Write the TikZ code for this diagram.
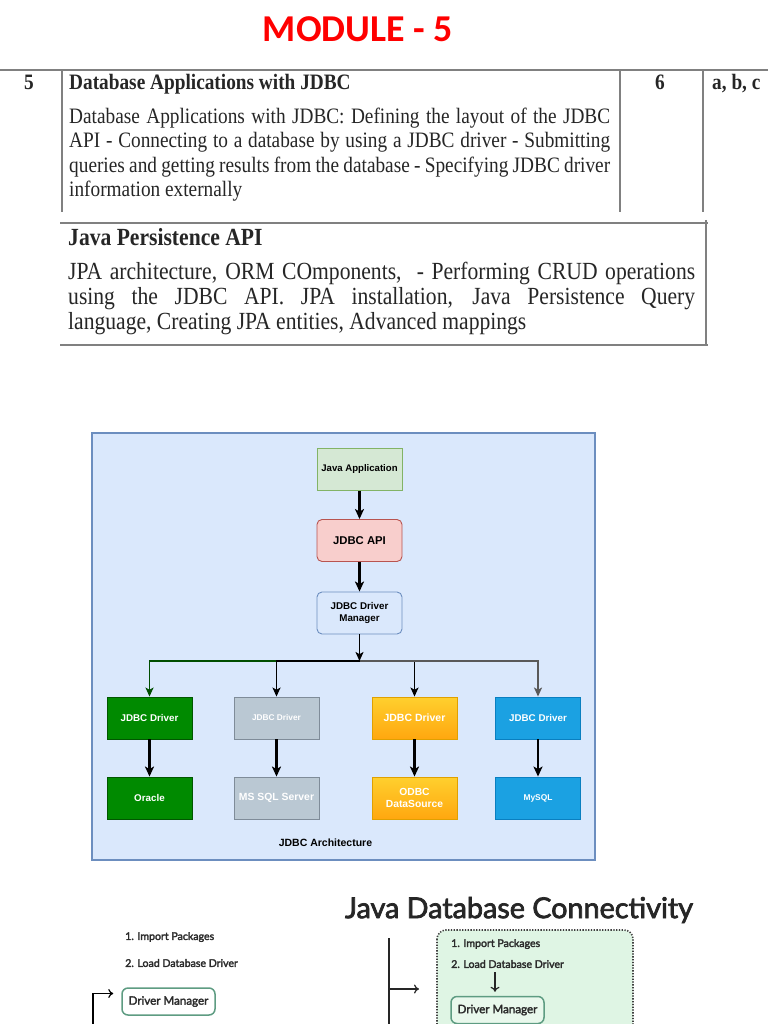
\documentclass[tikz,border=0pt]{standalone}
\usepackage{fontspec}
\setmainfont{Liberation Serif}
\newfontfamily\arialf{Liberation Sans}
\newfontfamily\calib{Carlito}
\newfontfamily\latof{Lato}
\newfontfamily\latom{Lato}[FakeBold=2.5]
\usetikzlibrary{arrows.meta,calc}
\definecolor{tablegray}{HTML}{808080}
\definecolor{modred}{HTML}{FF0000}
\definecolor{diagbg}{HTML}{DAE8FC}
\definecolor{diagborder}{HTML}{6C8EBF}
\definecolor{jafill}{HTML}{D5E8D4}
\definecolor{jaborder}{HTML}{82B366}
\definecolor{apifill}{HTML}{F8CECC}
\definecolor{apiborder}{HTML}{B85450}
\definecolor{gfill}{HTML}{008A00}
\definecolor{gborder}{HTML}{005700}
\definecolor{grfill}{HTML}{BAC8D3}
\definecolor{grborder}{HTML}{7F8C99}
\definecolor{otop}{HTML}{FFD02E}
\definecolor{obot}{HTML}{FFA70F}
\definecolor{oborder}{HTML}{E0A000}
\definecolor{bfill}{HTML}{1BA1E2}
\definecolor{bborder}{HTML}{0A7FC0}
\definecolor{jdcgreen}{HTML}{DFF5E4}
\definecolor{dmborder}{HTML}{5E9C82}
\definecolor{jdctext}{HTML}{2B2B2B}
\newcommand\jline[2]{\makebox[#1][s]{#2}}
\newcommand\tall[1]{\scalebox{1}[1.14]{#1}}
\begin{document}
\begin{tikzpicture}[x=1pt,y=-1pt,
  tline/.style={draw=tablegray, line width=1.1pt},
  tbody/.style={anchor=base west, inner sep=0pt, font=\fontsize{19.3}{23}\selectfont, text=black!85},
  tbodyb/.style={anchor=base west, inner sep=0pt, font=\fontsize{21.6}{25}\selectfont, text=black!85},
  dnode/.style={draw, line width=0.9pt, minimum width=85pt, minimum height=42pt, inner sep=1pt, align=center, font=\arialf\bfseries\fontsize{10}{12}\selectfont},
  arr/.style={line width=2.4pt, -{Stealth[length=10pt,width=9pt,inset=2.5pt]}},
  barr/.style={line width=1.6pt, -{Stealth[length=9pt,width=8pt,inset=2.2pt]}},
  jtext/.style={anchor=west, inner sep=0pt, text=jdctext, font=\latom\fontsize{10.6}{12}\selectfont},
  dmbox/.style={draw=dmborder, line width=1.5pt, rounded corners=6pt, minimum width=93pt, minimum height=27pt, inner sep=1pt, text=jdctext, font=\latom\fontsize{11.6}{13}\selectfont},
  thinarr/.style={line width=1.2pt, -{To[length=5pt,width=9pt]}}
]
\useasboundingbox (0,0) rectangle (768,1024);
\clip (0,0) rectangle (768,1024);
\fill[white] (0,0) rectangle (768,1024);

% Title
\node[inner sep=0pt, text=modred] (title) at (358,29) {\resizebox{190pt}{!}{\calib\bfseries MODULE - 5}};

% Table
\draw[tline] (0,70) -- (768,70);
\draw[tline] (62,70) -- (62,212);
\draw[tline] (620,70) -- (620,212);
\draw[tline] (703,70) -- (703,212);
\draw[tline] (60,223) -- (708,223);
\draw[tline] (706,220) -- (706,345);
\draw[tline] (60,345) -- (708,345);

\node[tbody, anchor=base] (num) at (29,90) {\tall{\bfseries 5}};
\node[tbody] (h1) at (69,90) {\tall{\bfseries Database Applications with JDBC}};
\node[tbody, anchor=base] (hrs) at (660,90) {\tall{\bfseries 6}};
\node[tbody] (co) at (712,90) {\tall{\bfseries a, b, c}};
\node[tbody] (l1) at (69,124) {\tall{\jline{541pt}{Database Applications with JDBC: Defining the layout of the JDBC}}};
\node[tbody] (l2) at (69,148) {\tall{\jline{541pt}{API - Connecting to a database by using a JDBC driver - Submitting}}};
\node[tbody] (l3) at (69,173) {\tall{\jline{541pt}{queries and getting results from the database - Specifying JDBC driver}}};
\node[tbody] (l4) at (69,197) {\tall{information externally}};

\node[tbodyb] (h2) at (68,245) {\tall{\bfseries Java Persistence API}};
\node[tbodyb] (m1) at (68,279) {\tall{\jline{627pt}{JPA architecture, ORM COmponents,\ \ - Performing CRUD operations}}};
\node[tbodyb] (m2) at (68,304) {\tall{\jline{627pt}{using the JDBC API. JPA installation, Java Persistence Query}}};
\node[tbodyb] (m3) at (68,329) {\tall{language, Creating JPA entities, Advanced mappings}};

% JDBC architecture diagram
\draw[fill=diagbg, draw=diagborder, line width=2pt] (92,433) rectangle (595,860);

\node[dnode, fill=jafill, draw=jaborder, font=\arialf\bfseries\fontsize{9.6}{11}\selectfont] (ja) at (359.5,469.5) {Java Application};
\node[dnode, fill=apifill, draw=apiborder, rounded corners=5pt, font=\arialf\bfseries\fontsize{11.3}{13}\selectfont] (api) at (359.5,540.5) {JDBC API};
\node[dnode, fill=diagbg, draw=diagborder, rounded corners=5pt, font=\arialf\bfseries\fontsize{9.8}{12}\selectfont] (dm) at (359.5,613) {JDBC Driver\\Manager};

\node[dnode, fill=gfill, draw=gborder, text=white, font=\arialf\bfseries\fontsize{9.8}{12}\selectfont] (d1) at (149.5,718) {JDBC Driver};
\node[dnode, fill=grfill, draw=grborder, text=white, font=\arialf\bfseries\fontsize{8.3}{10}\selectfont] (d2) at (276.5,718) {JDBC Driver};
\node[dnode, top color=otop, bottom color=obot, draw=oborder, text=white, font=\arialf\bfseries\fontsize{10.5}{12}\selectfont] (d3) at (414.5,718) {JDBC Driver};
\node[dnode, fill=bfill, draw=bborder, text=white, font=\arialf\bfseries\fontsize{9.8}{12}\selectfont] (d4) at (538,718) {JDBC Driver};

\node[dnode, fill=gfill, draw=gborder, text=white, font=\arialf\bfseries\fontsize{9.8}{12}\selectfont] (db1) at (149.5,798) {Oracle};
\node[dnode, fill=grfill, draw=grborder, text=white, font=\arialf\bfseries\fontsize{10.4}{12}\selectfont] (db2) at (276.5,798) {MS SQL Server};
\node[dnode, top color=otop, bottom color=obot, draw=oborder, text=white, font=\arialf\bfseries\fontsize{10.3}{11.5}\selectfont] (db3) at (414.5,798) {ODBC\\DataSource};
\node[dnode, fill=bfill, draw=bborder, text=white, font=\arialf\bfseries\fontsize{8.4}{10}\selectfont] (db4) at (538,798) {MySQL};

\node[inner sep=0pt, font=\arialf\bfseries\fontsize{10.5}{12}\selectfont] (cap) at (325.5,843) {JDBC Architecture};

\coordinate (bus) at (359.5,661);
\draw[arr] (ja) -- (api);
\draw[arr] (api) -- (dm);
\draw[barr] (dm) -- (bus);
\draw[barr, draw=gborder!90!black] (bus) -| (d1);
\draw[barr] (bus) -| (d2);
\draw[barr] (bus) -| (d3);
\draw[barr, draw=black!65] (bus) -| (d4);
\draw[arr] (d1) -- (db1);
\draw[arr] (d2) -- (db2);
\draw[arr] (d3) -- (db3);
\draw[arr] (d4) -- (db4);

% Java Database Connectivity
\node[inner sep=0pt, text=black!85] (jdc) at (519,910) {\resizebox{348pt}{!}{\latom Java Database Connectivity}};

\node[jtext] (li1) at (125,937) {1. Import Packages};
\node[jtext] (li2) at (125,963) {2. Load Database Driver};
\node[dmbox, fill=white] (ldm) at (168.5,1001.5) {Driver Manager};
\coordinate (lstart) at (93,1030);
\draw[thinarr, shorten >=8pt] (lstart) |- ([yshift=8pt]ldm.west);

\draw[draw=black!75, fill=jdcgreen, line width=1.6pt, dash pattern=on 1.3pt off 1.5pt, rounded corners=9pt] (437,930) rectangle (633,1060);
\coordinate (rtop) at (389,938);
\coordinate (rbot) at (389,1030);
\coordinate (rmid) at (389,989);
\coordinate (rend) at (419,989);
\draw[line width=1.2pt, black!85] (rtop) -- (rbot);
\draw[thinarr, black!85] (rmid) -- (rend);

\node[jtext] (ri1) at (451,944) {1. Import Packages};
\node[jtext] (ri2) at (451,964) {2. Load Database Driver};
\node[dmbox, fill=jdcgreen!70!white] (rdm) at (497.5,1010) {Driver Manager};
\draw[thinarr, black!85, shorten >=4pt] ($(ri2.south west)+(44,4)$) coordinate (rdown) -- (rdown |- rdm.north);
\end{tikzpicture}
\end{document}
